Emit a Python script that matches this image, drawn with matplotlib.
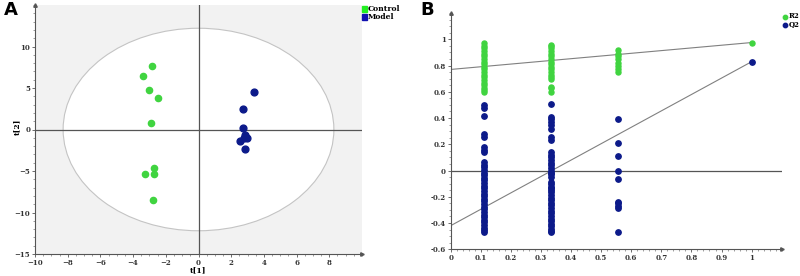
import matplotlib.pyplot as plt
from matplotlib.patches import Ellipse

# ---- panel A: PCA/PLS-DA scores ----
control_t1 = [-2.86, -3.37, -3.04, -2.49, -2.92, -2.71, -3.27, -2.71, -2.81]
control_t2 = [7.67, 6.47, 4.78, 3.78, 0.76, -4.67, -5.39, -5.39, -8.49]
model_t1 = [3.40, 2.71, 2.75, 2.85, 2.95, 2.80, 2.53, 2.87]
model_t2 = [4.54, 2.49, 0.19, -0.69, -1.01, -1.08, -1.38, -2.34]
ellipse_t1 = 8.28
ellipse_t2 = 12.2

# ---- panel B: permutation test ----
r2_x = [0.111] * 20 + [0.333] * 18 + [0.556] * 8 + [1.0]
r2_y = [0.97, 0.95, 0.93, 0.91, 0.89, 0.87, 0.85, 0.83, 0.81, 0.79,
        0.77, 0.75, 0.73, 0.71, 0.69, 0.67, 0.65, 0.63, 0.61, 0.60,
        0.96, 0.95, 0.93, 0.91, 0.89, 0.87, 0.85, 0.83, 0.81, 0.79,
        0.77, 0.75, 0.73, 0.71, 0.70, 0.64, 0.625, 0.596,
        0.917, 0.89, 0.87, 0.85, 0.82, 0.80, 0.77, 0.748,
        0.975]
q2_x = [0.111] * 36 + [0.333] * 41 + [0.556] * 10 + [1.0]
q2_y = [0.50, 0.48, 0.414, 0.28, 0.255, 0.18, 0.155, 0.14,
        0.065, 0.045, 0.025, 0.005, -0.015, -0.035, -0.055, -0.075,
        -0.095, -0.115, -0.135, -0.155, -0.175, -0.195, -0.215, -0.235,
        -0.255, -0.275, -0.295, -0.315, -0.335, -0.355, -0.375, -0.395,
        -0.415, -0.435, -0.455, -0.47,
        0.51, 0.41, 0.39, 0.37, 0.35, 0.32, 0.255, 0.23,
        0.14, 0.12, 0.10, 0.08, 0.06, 0.04, 0.02, 0.0, -0.02, -0.05,
        -0.086, -0.106, -0.126, -0.146, -0.166, -0.186, -0.206, -0.226,
        -0.246, -0.266, -0.286, -0.306, -0.326, -0.346, -0.366, -0.386,
        -0.406, -0.426, -0.446, -0.46, -0.47, -0.13, -0.03,
        0.394, 0.212, 0.114, -0.005, -0.068, -0.238, -0.25, -0.27, -0.288, -0.465,
        0.829]
r2_intercept = 0.77
q2_intercept = -0.42

green = '#40d440'
navy = '#0c1a8a'
axcol = '#555555'
serif = 'DejaVu Serif'

fig = plt.figure(figsize=(8, 2.76), dpi=100)

# ----- A -----
ax1 = fig.add_axes([35 / 800, 22 / 276, 327 / 800, 249 / 276])
ax1.set_facecolor('#f2f2f2')
ax1.add_patch(Ellipse((0, 0), 2 * ellipse_t1, 2 * ellipse_t2, facecolor='white',
                      edgecolor='#c4c4c4', lw=0.8, zorder=1))
ax1.axhline(0, color=axcol, lw=0.9, zorder=2)
ax1.axvline(0, color=axcol, lw=0.9, zorder=2)
ax1.scatter(control_t1, control_t2, s=20, color=green, zorder=3, label='Control')
ax1.scatter(model_t1, model_t2, s=24, color=navy, zorder=3, label='Model')
ax1.set_xlim(-10, 10)
ax1.set_ylim(-15, 15)
ax1.set_xticks(range(-10, 9, 2))
ax1.set_yticks(range(-15, 11, 5))

# ----- B -----
ax2 = fig.add_axes([450.7 / 800, 26.7 / 276, 331 / 800, 236.3 / 276])
ax2.axhline(0, color=axcol, lw=0.9, zorder=1)
ax2.plot([0, 1], [r2_intercept, r2_y[-1]], color='#808080', lw=0.8, zorder=1)
ax2.plot([0, 1], [q2_intercept, q2_y[-1]], color='#808080', lw=0.8, zorder=1)
ax2.scatter(r2_x, r2_y, s=13, color=green, zorder=3)
ax2.scatter(q2_x, q2_y, s=15, color=navy, zorder=3)
ax2.set_xlim(0, 1.1)
ax2.set_ylim(-0.6, 1.2)
ax2.set_xticks([i / 10 for i in range(11)])
ax2.set_xticklabels(['0', '0.1', '0.2', '0.3', '0.4', '0.5', '0.6', '0.7', '0.8', '0.9', '1'])
ax2.set_yticks([-0.6, -0.4, -0.2, 0, 0.2, 0.4, 0.6, 0.8, 1])
ax2.set_yticklabels(['-0.6', '-0.4', '-0.2', '0', '0.2', '0.4', '0.6', '0.8', '1'])

for ax in (ax1, ax2):
    for s in ('top', 'right'):
        ax.spines[s].set_visible(False)
    for s in ('left', 'bottom'):
        ax.spines[s].set_color(axcol)
        ax.spines[s].set_linewidth(0.8)
    ax.minorticks_on()
    ax.tick_params(which='major', length=2.5, width=0.6, color=axcol, pad=1)
    ax.tick_params(which='minor', length=1.2, width=0.4, color=axcol)
    for lab in ax.get_xticklabels() + ax.get_yticklabels():
        lab.set_fontfamily(serif)
        lab.set_fontsize(5)
        lab.set_fontweight('bold')
        lab.set_color('#333333')
    ax.plot(1, 0, '>', color=axcol, ms=2.5, transform=ax.transAxes, clip_on=False)
    ax.plot(0, 1, '^', color=axcol, ms=2.5, transform=ax.transAxes, clip_on=False)

# axis titles of A
fig.text(198 / 800, 1 - 270 / 276, 't[1]', fontsize=5.5, family=serif, weight='bold',
         ha='center', va='center')
fig.text(17 / 800, 1 - 127 / 276, 't[2]', fontsize=5.5, family=serif, weight='bold',
         ha='center', va='center', rotation=90)

# legends
fig.text(368 / 800, 1 - 9 / 276, 'Control', fontsize=5.5, family=serif,
         weight='bold', va='center')
fig.text(368 / 800, 1 - 17 / 276, 'Model', fontsize=5.5, family=serif,
         weight='bold', va='center')
fig.patches.append(plt.Rectangle((362 / 800, 1 - 12 / 276), 5 / 800, 6 / 276,
                                 color='#22ee22', transform=fig.transFigure))
fig.patches.append(plt.Rectangle((362 / 800, 1 - 20 / 276), 5 / 800, 6 / 276,
                                 color='#1010b0', transform=fig.transFigure))

ax2.scatter([1.111], [1.17], s=10, color=green, clip_on=False)
ax2.scatter([1.111], [1.108], s=10, color=navy, clip_on=False)
fig.text(789 / 800, 1 - 16 / 276, 'R2', fontsize=5, family=serif, weight='bold', va='center')
fig.text(789 / 800, 1 - 24 / 276, 'Q2', fontsize=5, family=serif, weight='bold', va='center')

fig.text(4 / 800, 1 - 10 / 276, 'A', fontsize=13, weight='bold', va='center')
fig.text(420 / 800, 1 - 10 / 276, 'B', fontsize=13, weight='bold', va='center')

fig.savefig('out.png', dpi=100)
